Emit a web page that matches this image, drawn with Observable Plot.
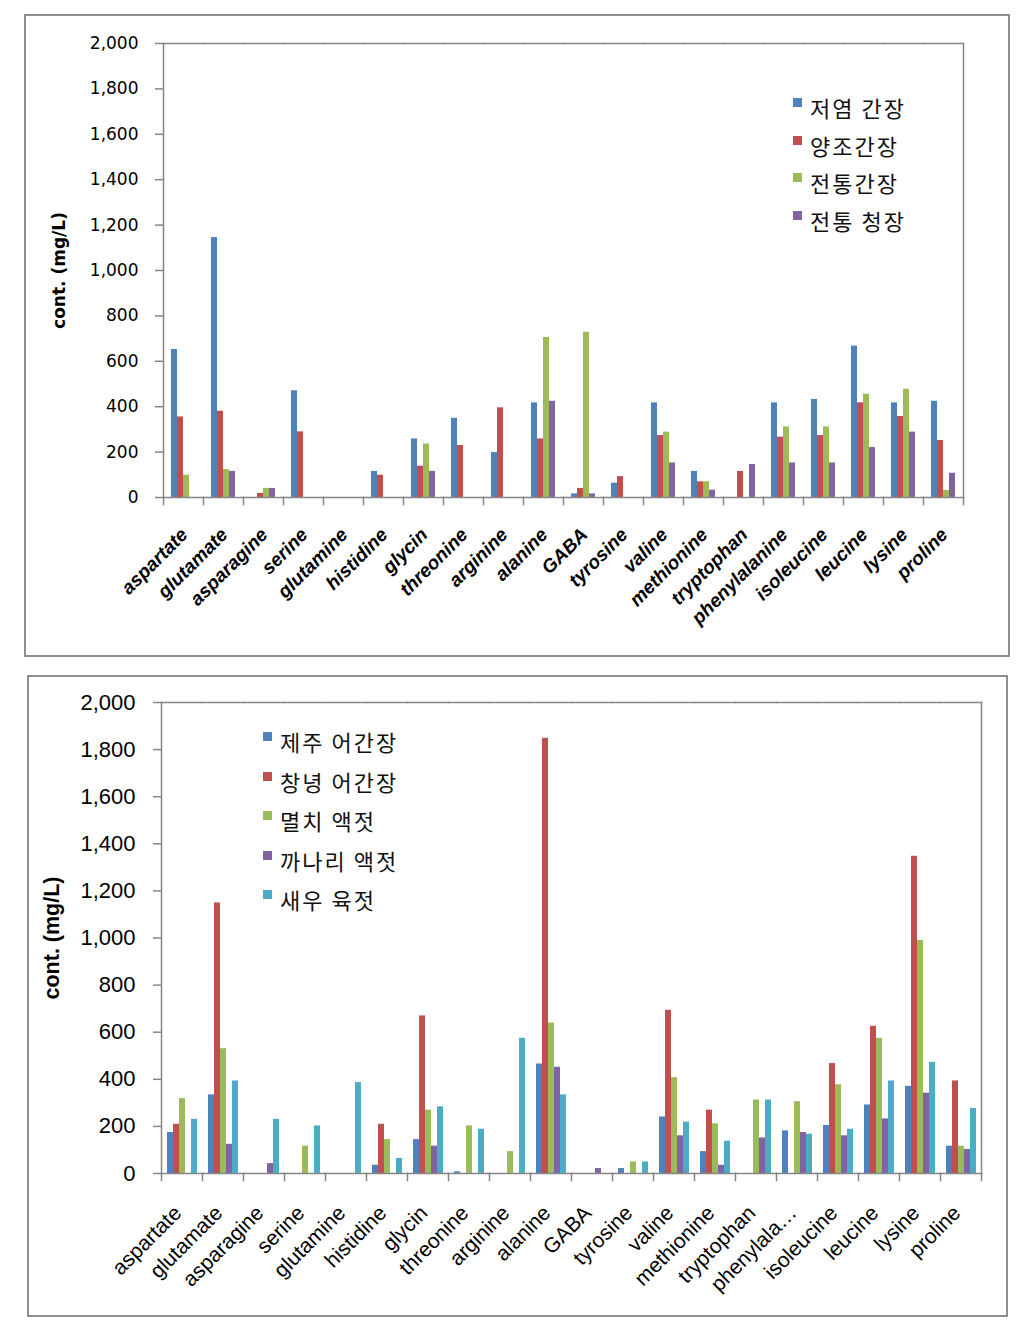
<!DOCTYPE html>
<html><head><meta charset="utf-8">
<script src="https://cdn.jsdelivr.net/npm/d3@7"></script>
<script src="https://cdn.jsdelivr.net/npm/@observablehq/plot@0.6"></script>
<style>
body{margin:0;background:#fff;}
#page{position:relative;width:1032px;height:1325px;overflow:hidden;}
.panel{position:absolute;border:2px solid #8e8e8e;box-sizing:border-box;}
.chart{position:absolute;}
.chart svg{overflow:visible;}
.legend{position:absolute;font-family:"Noto Sans CJK KR";color:#111;}
.item{position:absolute;white-space:nowrap;line-height:22px;letter-spacing:2px;}
.sw{position:absolute;width:9px;height:9px;}
#top g[aria-label="y-axis label"] text{font-weight:bold;font-family:"DejaVu Sans";font-size:17px;}
#bottom g[aria-label="y-axis label"] text{font-weight:bold;font-family:"Liberation Sans";font-size:21.5px;}
</style></head><body><div id="page"></div>
<script>
// ---- data ----
const categories = ["aspartate","glutamate","asparagine","serine","glutamine","histidine","glycin","threonine","arginine","alanine","GABA","tyrosine","valine","methionine","tryptophan","phenylalanine","isoleucine","leucine","lysine","proline"];
const topTickLabels = categories.slice();
const bottomTickLabels = ["aspartate","glutamate","asparagine","serine","glutamine","histidine","glycin","threonine","arginine","alanine","GABA","tyrosine","valine","methionine","tryptophan","phenylala…","isoleucine","leucine","lysine","proline"];
const yTickValues = [0,200,400,600,800,1000,1200,1400,1600,1800,2000];

// top chart series
const topSeries = ["저염 간장","양조간장","전통간장","전통 청장"];
const lowSaltSoy      = [652,1145,0,470,0,115,258,349,198,417,16,63,417,115,0,417,432,667,417,424];
const brewedSoy       = [355,380,18,289,0,98,138,229,395,258,40,92,273,69,115,266,273,417,357,251];
const traditionalSoy  = [98,123,40,0,0,0,236,0,0,705,728,0,288,69,0,311,311,455,477,31];
const traditionalCheong = [0,115,40,0,0,0,115,0,0,424,16,0,152,32,145,152,152,220,288,107];

// bottom chart series
const bottomSeries = ["제주 어간장","창녕 어간장","멸치 액젓","까나리 액젓","새우 육젓"];
const jejuFishSoy       = [174,334,0,0,0,35,144,7,0,465,0,21,240,93,0,181,204,291,370,116];
const changnyeongFishSoy= [209,1149,0,0,0,209,669,0,0,1848,0,0,693,269,0,0,467,625,1347,393];
const anchovySauce      = [318,530,0,116,0,144,269,202,93,639,0,49,407,211,312,305,377,574,990,116];
const sandLanceSauce    = [0,124,42,0,0,0,116,0,0,451,21,0,160,35,151,174,160,232,341,102];
const saltedShrimp      = [230,393,230,202,386,64,283,188,574,334,0,49,218,137,312,167,188,393,472,276];

const topColors = ["#4F81BD","#C0504D","#9BBB59","#8064A2"];
const bottomColors = ["#4F81BD","#C0504D","#9BBB59","#8064A2","#4BACC6"];
const gray = "#868686";

function rowsOf(series, arrays){
  return categories.flatMap((c,i)=>series.map((s,j)=>({cat:c, series:s, value:arrays[j][i]})));
}

function makeChart(o){
  const H = o.height - o.marginTop - o.marginBottom;
  const labelMap = new Map(categories.map((c,i)=>[c,o.tickLabels[i]]));
  return Plot.plot({
    width:o.width, height:o.height,
    marginLeft:o.marginLeft, marginRight:o.marginRight, marginTop:o.marginTop, marginBottom:o.marginBottom,
    style:{fontFamily:o.font, fontSize:o.tickFs+"px", color:"#000", background:"transparent", overflow:"visible"},
    fx:{domain:categories, paddingInner:0, paddingOuter:0, label:null},
    x:{domain:o.series, paddingInner:0, paddingOuter:o.pad, axis:null},
    y:{domain:[0,2000]},
    color:{domain:o.series, range:o.colors},
    marks:[
      Plot.barY(o.rows, {fx:"cat", x:"series", y:"value", fill:"series"}),
      Plot.frame({anchor:"top", stroke:gray, strokeWidth:1.5}),
      Plot.frame({anchor:"bottom", stroke:gray, strokeWidth:1.5}),
      Plot.frame({anchor:"left", stroke:gray, strokeWidth:1.5, facetAnchor:"left"}),
      Plot.frame({anchor:"right", stroke:gray, strokeWidth:1.5, facetAnchor:"right"}),
      Plot.frame({anchor:"left", stroke:gray, strokeWidth:1.5, insetTop:H, insetBottom:-7}),
      Plot.frame({anchor:"right", stroke:gray, strokeWidth:1.5, insetTop:H, insetBottom:-7, facetAnchor:"right"}),
      Plot.axisY({ticks:yTickValues, tickFormat:d3.format(","), tickSize:8, tickPadding:o.yPad, stroke:gray, strokeWidth:1.5,
        label:"cont. (mg/L)", labelAnchor:"center", labelOffset:o.labelOffset, labelArrow:"none", fontSize:o.tickFs}),
      Plot.axisFx({anchor:"bottom", tickRotate:-45, tickSize:0, tickPadding:o.xPad, dx:o.xdx, label:null,
        tickFormat:(d)=>labelMap.get(d), fontSize:o.xFs, fontWeight:o.xWeight, fontStyle:o.xStyle, fontFamily:o.xFont})
    ]
  });
}

const page = document.getElementById("page");
function panel(x,y,w,h){
  const d=document.createElement("div"); d.className="panel";
  Object.assign(d.style,{left:x+"px",top:y+"px",width:w+"px",height:h+"px"});
  page.appendChild(d);
}
function place(svg,x,y,id){
  const d=document.createElement("div"); d.className="chart"; d.id=id;
  d.style.left=x+"px"; d.style.top=y+"px"; d.appendChild(svg); page.appendChild(d);
}
function legend(series, colors, x, y, step, fs){
  const L=document.createElement("div"); L.className="legend";
  L.style.left=x+"px"; L.style.top=y+"px"; L.style.fontSize=fs+"px";
  series.forEach((s,i)=>{
    const sw=document.createElement("div"); sw.className="sw";
    Object.assign(sw.style,{left:"0px",top:(i*step)+"px",background:colors[i]});
    const t=document.createElement("div"); t.className="item"; t.textContent=s;
    Object.assign(t.style,{left:"17px",top:(i*step-2)+"px"});
    L.appendChild(sw); L.appendChild(t);
  });
  page.appendChild(L);
}

// top panel
panel(24,14,986,643);
place(makeChart({
  width:984, height:641, marginLeft:136, marginRight:44, marginTop:28, marginBottom:159,
  series:topSeries, colors:topColors, rows:rowsOf(topSeries,[lowSaltSoy,brewedSoy,traditionalSoy,traditionalCheong]),
  pad:1, font:"DejaVu Sans", tickFs:17, yPad:17, labelOffset:111, tickLabels:topTickLabels,
  xPad:34, xdx:1, xFs:19, xWeight:"bold", xStyle:"italic", xFont:"Liberation Sans"
}),25,15,"top");
legend(topSeries, topColors, 793, 98, 37.5, 22);

// bottom panel
panel(27,675,981,642);
place(makeChart({
  width:979, height:640, marginLeft:129, marginRight:23, marginTop:26, marginBottom:143,
  series:bottomSeries, colors:bottomColors, rows:rowsOf(bottomSeries,[jejuFishSoy,changnyeongFishSoy,anchovySauce,sandLanceSauce,saltedShrimp]),
  pad:0.84, font:"Liberation Sans", tickFs:22, yPad:18, labelOffset:118, tickLabels:bottomTickLabels,
  xPad:36, xdx:-4, xFs:21, xWeight:"normal", xStyle:"normal", xFont:"Liberation Sans"
}),28,676,"bottom");
legend(bottomSeries, bottomColors, 263, 732, 39.5, 22);
</script></body></html>
